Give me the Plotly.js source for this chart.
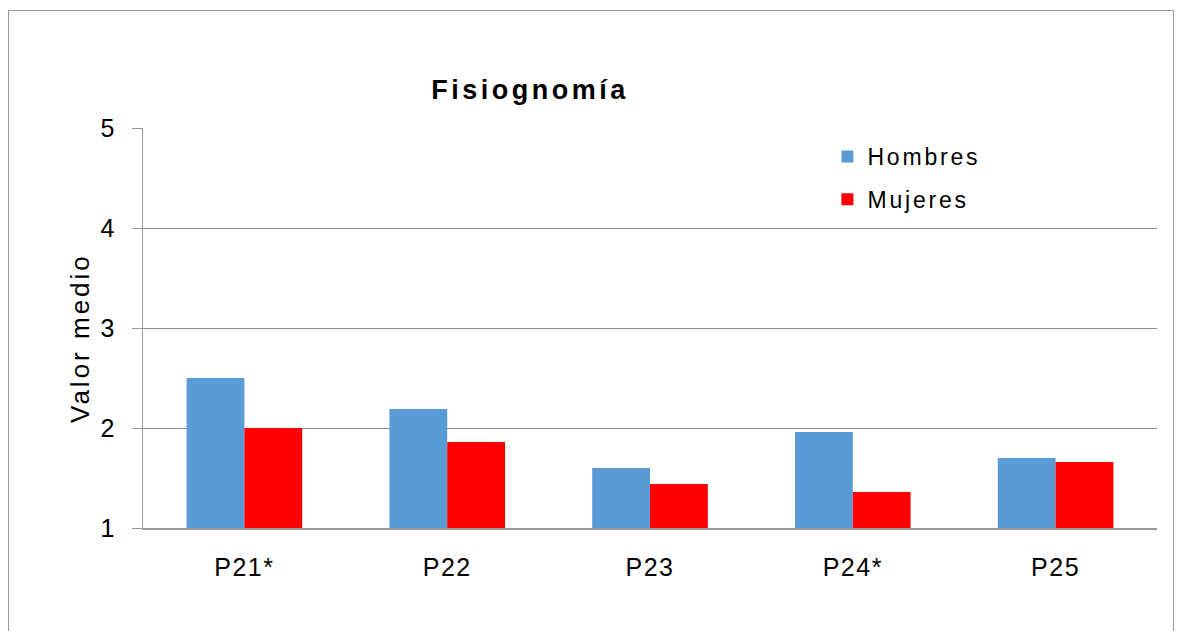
<!DOCTYPE html>
<html>
<head>
<meta charset="utf-8">
<script src="https://cdn.plot.ly/plotly-3.0.1.min.js"></script>
<style>
  html, body { margin: 0; padding: 0; background: #fff; }
  #wrap { position: relative; width: 1182px; height: 631px; overflow: hidden; }
  #frame { position: absolute; left: 8px; top: 10px; width: 1164px; height: 700px; border: 1px solid #999; pointer-events: none; }
  #chart { position: absolute; left: 0; top: 0; width: 1182px; height: 631px; }
  .legendtext { letter-spacing: 2.8px; }
  .xtick text { letter-spacing: 1.5px; }
  .annotation-text { letter-spacing: 3px; }
  .gtitle { letter-spacing: 3.5px; }
</style>
</head>
<body>
<div id="wrap">
  <div id="chart"></div>
  <div id="frame"></div>
</div>
<script>
const categories = ["P21*", "P22", "P23", "P24*", "P25"];
const hombres = [2.50, 2.19, 1.60, 1.96, 1.70];
const mujeres = [2.00, 1.86, 1.44, 1.36, 1.66];
const yTicks = [1, 2, 3, 4, 5];
const yTitle = "Valor medio";

const font = "Liberation Sans, Arial, sans-serif";
const yMin = 1;

const data = [
  { type: "bar", name: "Hombres", x: categories, y: hombres.map(v => v - yMin), base: yMin,
    marker: { color: "#5B9BD5" }, legendgroup: "h" },
  { type: "bar", name: "Mujeres", x: categories, y: mujeres.map(v => v - yMin), base: yMin,
    marker: { color: "#FF0000" }, legendgroup: "m" }
];

const layout = {
  width: 1182, height: 631,
  margin: { l: 143, r: 25, t: 128, b: 103 },
  paper_bgcolor: "#fff", plot_bgcolor: "#fff",
  font: { family: font, color: "#000" },
  title: { text: "<b>Fisiognomía</b>", font: { family: font, size: 27, color: "#000" },
           x: 530 / 1182, xref: "container", xanchor: "center",
           y: 1 - 90 / 631, yref: "container", yanchor: "middle" },
  barmode: "group", bargap: 0.43, bargroupgap: 0,
  showlegend: true,
  legend: { x: 0.675, y: 1 - 7 / 400, xanchor: "left", yanchor: "top",
            font: { family: font, size: 23, color: "#000" },
            traceorder: "grouped", tracegroupgap: 10,
            itemwidth: 30, bgcolor: "rgba(0,0,0,0)" },
  xaxis: { type: "category", showgrid: false, showline: true, linecolor: "#999", linewidth: 1.5,
           ticks: "", tickfont: { family: font, size: 25, color: "#000" },
           ticklabelstandoff: 16, fixedrange: true },
  yaxis: { range: [yMin, 5], tickvals: yTicks, ticktext: yTicks.map(String),
           showgrid: true, gridcolor: "#8c8c8c", gridwidth: 1,
           showline: true, linecolor: "#999", linewidth: 1.5,
           ticks: "outside", ticklen: 10, tickcolor: "#999",
           tickfont: { family: font, size: 25, color: "#000" },
           ticklabelstandoff: 12,
           zeroline: false, fixedrange: true },
  annotations: [
    { text: yTitle, textangle: -90, showarrow: false,
      xref: "paper", yref: "paper", x: (80 - 143) / 1014, y: (528 - 338) / 400,
      xanchor: "center", yanchor: "middle",
      font: { family: font, size: 26, color: "#000" } }
  ]
};

Plotly.newPlot("chart", data, layout, { displayModeBar: false, staticPlot: true });
</script>
</body>
</html>
